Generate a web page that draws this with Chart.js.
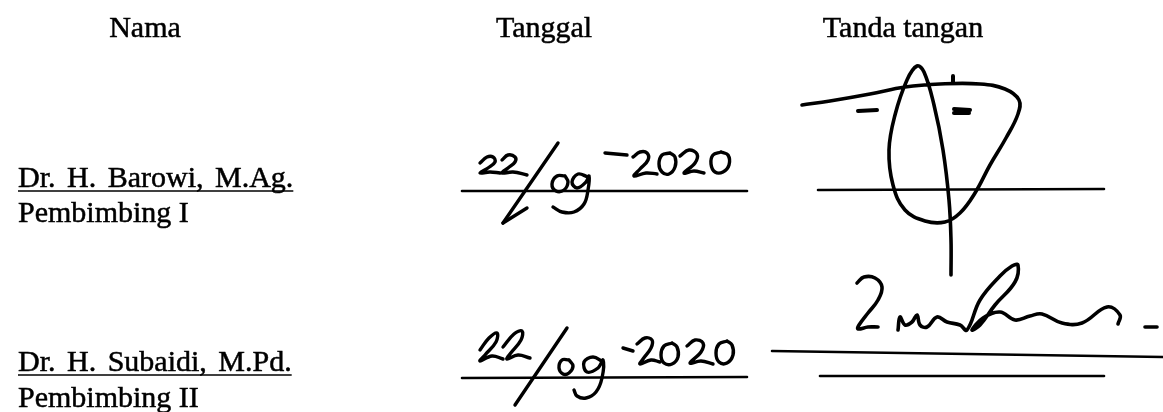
<!DOCTYPE html>
<html>
<head>
<meta charset="utf-8">
<title>Lembar persetujuan</title>
<script src="https://cdn.jsdelivr.net/npm/chart.js@4.4.1/dist/chart.umd.min.js"></script>
<style>
    html, body { margin: 0; padding: 0; background: #fff; }
    #page { display: block; }
</style>
</head>
<body>
<canvas id="page" width="1163" height="412"></canvas>
<script>
// texts
var headerLabels = ['Nama', 'Tanggal', 'Tanda tangan'];
var nameLabels = ['Dr. H. Barowi, M.Ag.', 'Dr. H. Subaidi, M.Pd.'];
var roleLabels = ['Pembimbing I', 'Pembimbing II'];

// ruled lines, [x, y] in page units
var dateRule1 = [[462, 191], [747, 191]];
var signRule1 = [[818, 190], [1104, 189]];
var dateRule2 = [[462, 378], [747, 377]];
var signRule2a = [[772, 351], [1163, 357]];
var signRule2b = [[820, 376], [1104, 376]];

// handwritten date, row 1  (22/09-2020)
var date1Strokes = [
    [[480,163],[487,157],[493,157],[495,162],[488,168],[480,173],[490,172],[500,173]],
    [[502,160],[508,155],[515,157],[515,162],[508,168],[502,173],[513,172],[527,175]],
    [[565,176],[557,176],[552,184],[556,191],[564,190],[568,182],[565,176]],
    [[588,177],[578,174],[572,182],[577,188],[586,182],[589,176],[588,190],[584,204],[574,212],[562,212],[553,207]],
    [[633,157],[640,152],[647,153],[648,160],[640,169],[634,176],[646,173],[657,174]],
    [[670,153],[662,155],[659,164],[662,172],[669,174],[675,167],[675,157],[670,153]],
    [[680,156],[689,150],[697,154],[695,163],[684,173],[694,171],[704,173]],
    [[721,152],[713,155],[711,164],[715,172],[723,172],[729,165],[728,155],[721,152]]
];
var date1Straight = [
    [[558,143],[503,223]],
    [[503,223],[527,208]],
    [[605,153],[627,155]]
];

// handwritten date, row 2
var date2Strokes = [
    [[480,350],[489,338],[497,333],[496,342],[485,355],[480,361],[492,356],[503,359]],
    [[503,347],[514,334],[522,331],[521,340],[510,354],[507,359],[518,355],[530,358]],
    [[569,360],[562,360],[559,368],[563,374],[569,373],[573,366],[569,360]],
    [[603,362],[593,357],[584,362],[587,372],[598,368],[603,360],[602,378],[596,392],[586,398],[577,396],[574,390]],
    [[637,344],[645,338],[652,340],[651,348],[643,359],[640,364],[651,360],[660,362]],
    [[672,343],[664,346],[661,355],[664,363],[672,364],[678,357],[677,347],[672,343]],
    [[687,346],[695,340],[703,343],[701,352],[690,363],[701,361],[713,364]],
    [[727,341],[719,344],[716,353],[719,362],[727,363],[733,355],[732,345],[727,341]]
];
var date2Straight = [
    [[567,328],[515,405]],
    [[623,348],[633,351]]
];

// signature 1
var sign1Strokes = [
    [[802,105],[830,101],[870,94],[905,87],[940,84],[980,84],[1005,89],[1019,100],[1018,114],[1006,138],
     [990,165],[975,193],[960,213],[945,222],[925,221],[905,210],[893,185],[889,150],[895,115],[907,80],
     [917,66],[924,72],[934,105],[943,150],[949,200],[951,240],[951,275]]
];
var sign1Marks = [
    [[858,111],[877,110]],
    [[954,109],[970,110]],
    [[954,113],[969,113]],
    [[953,76],[953,83]]
];

// signature 2
var sign2Strokes = [
    [[857,283],[864,277],[875,278],[882,287],[878,300],[868,313],[859,325],[858,329],[868,327],[878,327]],
    [[898,330],[900,317],[905,325],[912,322],[917,315],[920,325],[927,327],[937,317],[947,322],[960,325],
     [967,330],[980,300],[1000,276],[1012,266],[1018,265],[1015,282],[995,305],[980,325],[972,330],[983,318],
     [1000,312],[1015,320],[1030,316],[1042,314],[1062,323],[1082,323],[1107,307],[1120,315],[1118,324]]
];
var sign2Marks = [
    [[1145,327],[1157,327]]
];

var toPoints = function(stroke){
    var pts = [];
    for(var i = 0; i < stroke.length; i++){
        pts.push({x: stroke[i][0], y: stroke[i][1]});
    }
    return pts;
}

var datasets = [];
var addStrokes = function(strokes, width, tension){
    strokes.forEach(function(stroke){
        datasets.push({
            data: toPoints(stroke),
            showLine: true,
            borderColor: '#000',
            borderWidth: width,
            borderCapStyle: 'round',
            borderJoinStyle: 'round',
            pointRadius: 0,
            tension: tension,
            clip: false
        });
    });
}

addStrokes([dateRule1, signRule1, dateRule2, signRule2a, signRule2b], 2.6, 0);
addStrokes(date1Strokes, 3.4, 0.4);
addStrokes(date1Straight, 3.4, 0);
addStrokes(date2Strokes, 3.4, 0.4);
addStrokes(date2Straight, 3.4, 0);
addStrokes(sign1Strokes, 3.6, 0.4);
addStrokes(sign1Marks, 4, 0);
addStrokes(sign2Strokes, 3.6, 0.4);
addStrokes(sign2Marks, 3.6, 0);

// typed text, placed in page units through the scales
var pageText = {
    id: 'pageText',
    afterDatasetsDraw: function(chart, args, opts){
        var ctx = chart.ctx;
        var sx = chart.scales.x, sy = chart.scales.y;
        var ink = function(label, x, y){
            ctx.fillText(label, x, y);
            ctx.lineWidth = 0.5;
            ctx.strokeText(label, x, y); // scanned print looks a bit heavier
        }
        ctx.save();
        ctx.fillStyle = '#000';
        ctx.strokeStyle = '#000';
        ctx.font = opts.font;
        ctx.textBaseline = 'alphabetic';

        ctx.textAlign = 'center';
        headerLabels.forEach(function(label, i){
            ink(label, sx.getPixelForValue(opts.headerX[i]), sy.getPixelForValue(opts.headerY));
        });

        ctx.textAlign = 'left';
        var left = sx.getPixelForValue(opts.left);
        roleLabels.forEach(function(label, i){
            ink(label, left, sy.getPixelForValue(opts.roleY[i]));
        });
        ctx.wordSpacing = '4px';
        nameLabels.forEach(function(label, i){
            var y = sy.getPixelForValue(opts.nameY[i]);
            ink(label, left, y);
            var w = ctx.measureText(label).width;
            ctx.lineWidth = 1.6;
            ctx.beginPath();
            ctx.moveTo(left, y + 4);
            ctx.lineTo(left + w, y + 4);
            ctx.stroke();
        });
        ctx.restore();
    }
};

new Chart(document.getElementById('page'), {
    type: 'scatter',
    data: { datasets: datasets },
    plugins: [pageText],
    options: {
        responsive: false,
        animation: false,
        layout: { padding: 0 },
        scales: {
            x: { type: 'linear', min: 0, max: 1163, display: false },
            y: { type: 'linear', min: 0, max: 412, reverse: true, display: false }
        },
        plugins: {
            legend: { display: false },
            tooltip: { enabled: false },
            pageText: {
                font: '30px "Liberation Serif"',
                headerX: [145, 544, 903],
                headerY: 37,
                left: 18,
                nameY: [187, 371],
                roleY: [222, 407]
            }
        }
    }
});
</script>
</body>
</html>
